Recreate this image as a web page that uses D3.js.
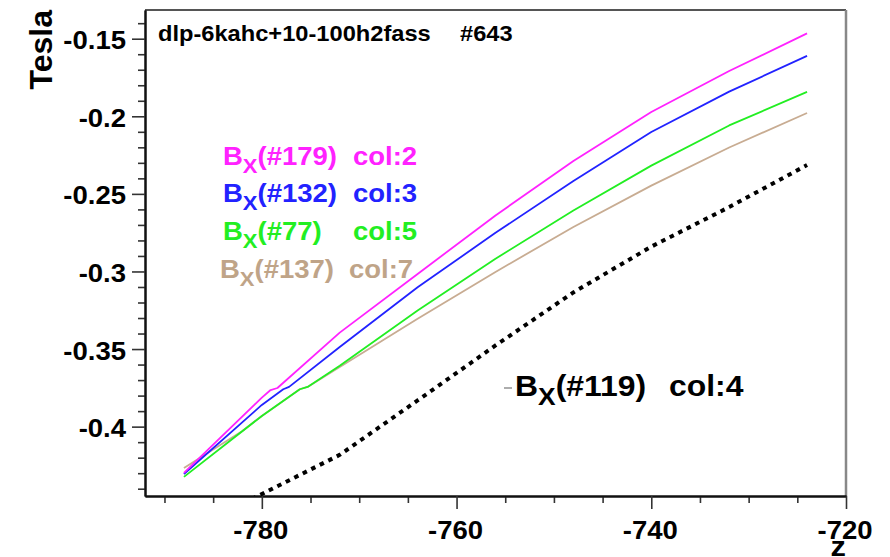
<!DOCTYPE html>
<html>
<head>
<meta charset="utf-8">
<script src="https://cdn.jsdelivr.net/npm/d3@7"></script>
<style>
  html, body { margin: 0; padding: 0; background: #fff; }
  svg { display: block; }
  text { font-family: "Liberation Sans", Arial, Helvetica, sans-serif; font-weight: bold; }
</style>
</head>
<body>
<svg id="chart" width="890" height="557"></svg>
<script>
// Field component Bx along z for several probe channels
const zDomain = [-792, -720];
const bDomain = [-0.4447, -0.1315];

const xMajorTicks = [-780, -760, -740, -720];
const xMinorTicks = [-790, -785, -775, -770, -765, -755, -750, -745, -735, -730, -725];
const yMajorTicks = [-0.15, -0.2, -0.25, -0.3, -0.35, -0.4];
const yMinorTicks = [-0.14, -0.16, -0.17, -0.18, -0.19, -0.21, -0.22, -0.23, -0.24,
  -0.26, -0.27, -0.28, -0.29, -0.31, -0.32, -0.33, -0.34, -0.36, -0.37, -0.38, -0.39,
  -0.41, -0.42, -0.43, -0.44];
const xTickLabels = ["-780", "-760", "-740", "-720"];
const yTickLabels = ["-0.15", "-0.2", "-0.25", "-0.3", "-0.35", "-0.4"];

// channel #179 (col:2)
const z179 = [-788, -780, -779.1, -778.4, -772, -764, -756, -748, -740, -732, -724];
const bx179 = [-0.4298, -0.3813, -0.3764, -0.3751, -0.3394, -0.3016, -0.2639, -0.2288, -0.1972, -0.1708, -0.1466];
// channel #132 (col:3)
const z132 = [-788, -780, -777.8, -777.2, -772, -764, -756, -748, -740, -732, -724];
const bx132 = [-0.4305, -0.3860, -0.3759, -0.3744, -0.3487, -0.3102, -0.2751, -0.2417, -0.2101, -0.1841, -0.1611];
// channel #77 (col:5)
const z77 = [-788, -780, -776.1, -775.3, -772, -764, -756, -748, -740, -732, -724];
const bx77 = [-0.4324, -0.3931, -0.3759, -0.3744, -0.3608, -0.3252, -0.2918, -0.2607, -0.2318, -0.2059, -0.1843];
// channel #137 (col:7)
const z137 = [-788, -782, -780, -776.1, -775.3, -772, -764, -756, -748, -740, -732, -724];
const bx137 = [-0.4266, -0.4028, -0.3931, -0.3759, -0.3744, -0.3616, -0.3305, -0.3003, -0.2713, -0.2447, -0.2201, -0.1979];
// channel #119 (col:4), drawn negated
const z119 = [-788, -780, -772, -764, -756, -748, -740, -732, -724];
const bx119 = [-0.4686, -0.4434, -0.4182, -0.3831, -0.3477, -0.3135, -0.2840, -0.2585, -0.2314];

const titleText = "dlp-6kahc+10-100h2fass";
const runText = "#643";

const frame = { left: 145, right: 846, top: 10, bottom: 496 };
const stretch = 1.1;

const svg = d3.select("#chart");
const x = d3.scaleLinear().domain(zDomain).range([frame.left, frame.right]);
const y = d3.scaleLinear().domain(bDomain).range([frame.bottom, frame.top]);

svg.append("defs").append("clipPath").attr("id", "frameClip")
  .append("rect")
  .attr("x", frame.left).attr("y", frame.top)
  .attr("width", frame.right - frame.left).attr("height", frame.bottom - frame.top);

// frame box: top and right edges
svg.append("line").attr("x1", frame.left).attr("x2", frame.right)
  .attr("y1", frame.top).attr("y2", frame.top)
  .attr("stroke", "#555").attr("stroke-width", 2);
svg.append("line").attr("x1", frame.right).attr("x2", frame.right)
  .attr("y1", frame.top).attr("y2", frame.bottom)
  .attr("stroke", "#888").attr("stroke-width", 2.5);

// axes: tick marks from d3 axes, labels drawn separately
function styleAxis(g) {
  g.select(".domain").attr("stroke", "#111").attr("stroke-width", 2);
  g.selectAll(".tick line").attr("stroke", "#333").attr("stroke-width", 1.6);
  g.selectAll(".tick text").remove();
}
svg.append("g").attr("transform", `translate(0,${frame.bottom})`)
  .call(d3.axisBottom(x).tickValues(xMinorTicks).tickSize(7).tickSizeOuter(0).tickFormat(""))
  .call(styleAxis);
svg.append("g").attr("transform", `translate(0,${frame.bottom})`)
  .call(d3.axisBottom(x).tickValues(xMajorTicks).tickSize(13).tickSizeOuter(0).tickFormat(""))
  .call(styleAxis);
svg.append("g").attr("transform", `translate(${frame.left},0)`)
  .call(d3.axisLeft(y).tickValues(yMinorTicks).tickSize(7).tickSizeOuter(0).tickFormat(""))
  .call(styleAxis);
svg.append("g").attr("transform", `translate(${frame.left},0)`)
  .call(d3.axisLeft(y).tickValues(yMajorTicks).tickSize(13).tickSizeOuter(0).tickFormat(""))
  .call(styleAxis);

function stretchedText(px, py, size, anchor, fill) {
  return svg.append("text")
    .attr("transform", `translate(${px},${py}) scale(${stretch},1)`)
    .attr("text-anchor", anchor)
    .attr("font-size", size)
    .attr("fill", fill);
}

xMajorTicks.forEach((v, i) => {
  stretchedText(x(v) - 1, 539, 25, "middle", "#000").text(xTickLabels[i]);
});
yMajorTicks.forEach((v, i) => {
  stretchedText(126, y(v) + 10.5, 25, "end", "#000").text(yTickLabels[i]);
});

// axis titles
svg.append("text")
  .attr("transform", `translate(52,${frame.top}) rotate(-90)`)
  .attr("text-anchor", "end").attr("font-size", 32).attr("fill", "#000")
  .text("Tesla");
stretchedText(frame.right, 556, 28, "end", "#000").text("z");

// title
stretchedText(158, 41, 21.5, "start", "#000").text(titleText);
stretchedText(460, 41, 21.5, "start", "#000").text(runText);

// curves
const plot = svg.append("g").attr("clip-path", "url(#frameClip)");
const line = d3.line().x(d => x(d[0])).y(d => y(d[1]));
const series = [
  { z: z137, b: bx137, color: "#c8ac92", width: 1.8 },
  { z: z77, b: bx77, color: "#22ee22", width: 1.8 },
  { z: z132, b: bx132, color: "#2222ff", width: 1.8 },
  { z: z179, b: bx179, color: "#ff22ff", width: 1.8 }
];
series.forEach(s => {
  plot.append("path")
    .datum(d3.zip(s.z, s.b))
    .attr("d", line)
    .attr("fill", "none")
    .attr("stroke", s.color)
    .attr("stroke-width", s.width)
    .attr("stroke-linejoin", "round");
});
plot.append("path")
  .datum(d3.zip(z119, bx119))
  .attr("d", line)
  .attr("fill", "none")
  .attr("stroke", "#000")
  .attr("stroke-width", 4)
  .attr("stroke-dasharray", "4.5,5");

// channel labels
const labels = [
  { id: "(#179)", col: "col:2", color: "#ff22ff", x: 223, colX: 353, y: 165 },
  { id: "(#132)", col: "col:3", color: "#2222ff", x: 223, colX: 353, y: 202 },
  { id: "(#77)", col: "col:5", color: "#22ee22", x: 223, colX: 353, y: 240 },
  { id: "(#137)", col: "col:7", color: "#bfa488", x: 220, colX: 349, y: 278 }
];
labels.forEach(l => {
  const t = stretchedText(l.x, l.y, 25, "start", l.color);
  t.append("tspan").text("B");
  t.append("tspan").attr("font-size", 20).attr("dy", 8).text("X");
  t.append("tspan").attr("dy", -8).text(l.id);
  stretchedText(l.colX, l.y, 25, "start", l.color).text(l.col);
});

svg.append("line").attr("x1", 504).attr("x2", 512).attr("y1", 388).attr("y2", 388)
  .attr("stroke", "#777").attr("stroke-width", 1.2);
const t119 = stretchedText(515, 396, 29, "start", "#000");
t119.append("tspan").text("B");
t119.append("tspan").attr("font-size", 24).attr("dy", 9).text("X");
t119.append("tspan").attr("dy", -9).text("(#119)");
stretchedText(669, 396, 29, "start", "#000").text("col:4");
</script>
</body>
</html>
